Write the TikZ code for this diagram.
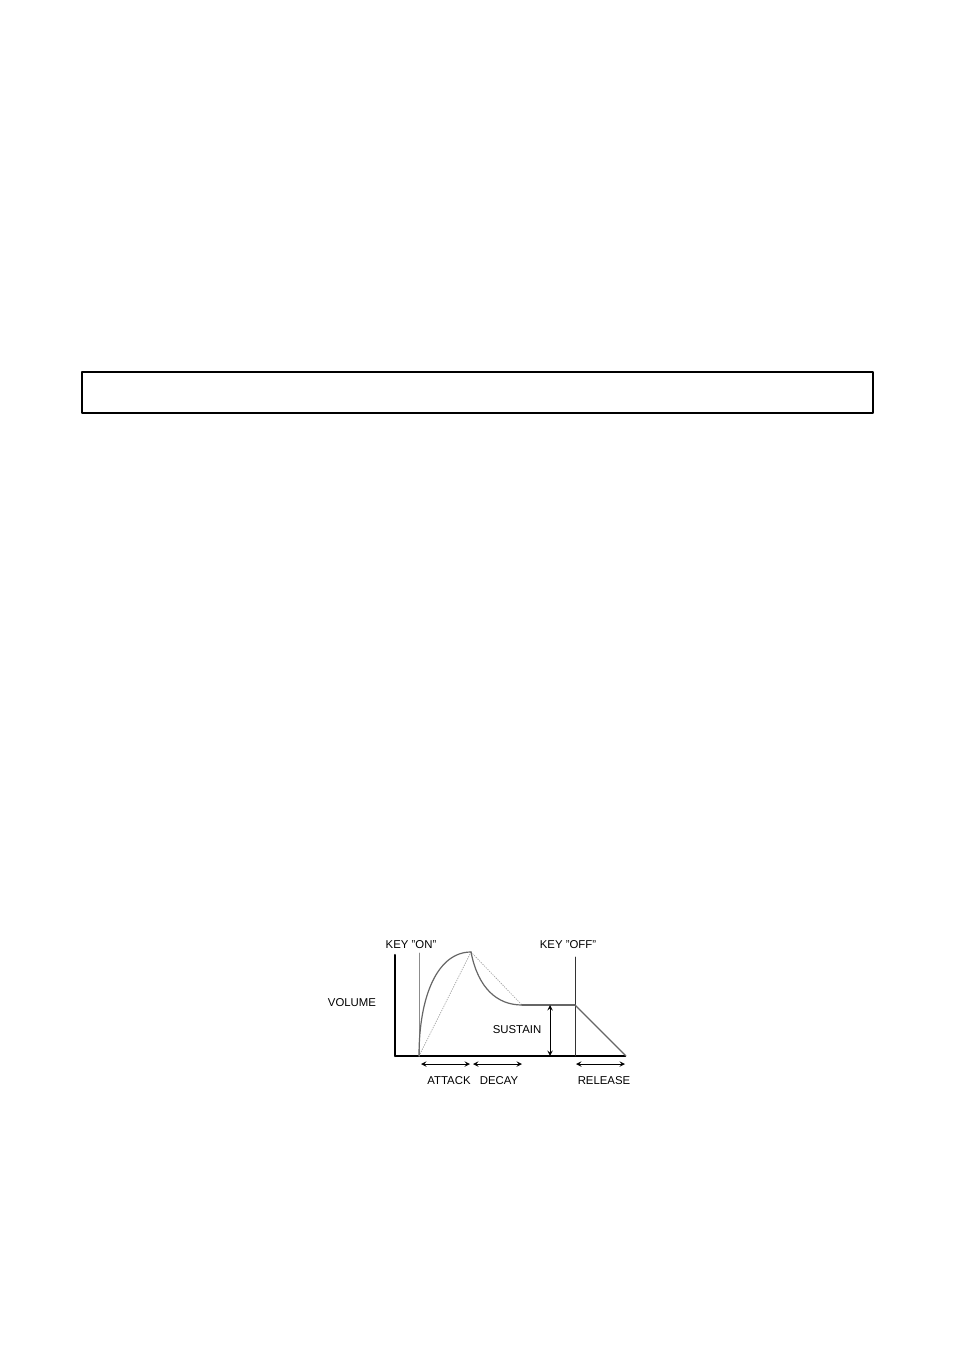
\documentclass[tikz,border=0pt]{standalone}
\usepackage{fontspec}
\setmainfont{Liberation Sans}
\usepackage{tikz}
\usetikzlibrary{arrows}
\tikzset{
  lbl/.style={font=\fontsize{7.1}{8}\selectfont,inner sep=0pt},
  env/.style={line width=0.75pt,color=black!60},
  guide/.style={line width=0.5pt,color=black!35,densely dotted},
  keyline/.style={line width=0.6pt,color=black!80},
  span/.style={<->,line width=0.5pt}
}
\begin{document}
\begin{tikzpicture}[line cap=round,line join=round,>=stealth,x=0.6237pt,y=-0.6237pt]
\useasboundingbox (0,0) rectangle (954,1350);
%\clip (0,0) rectangle (954,1350);
\draw [line width=0.65pt] (82,372) rectangle (873,413);
% points of the envelope
\coordinate (top) at (395,955);
\coordinate (org) at (395,1056);
\coordinate (end) at (626,1056);
\coordinate (on) at (419,1056);
\coordinate (ontop) at (419,953);
\coordinate (peak) at (471,952);
\coordinate (sus) at (522,1005);
\coordinate (off) at (575,1005);
\coordinate (offtop) at (575,957);
\coordinate (offbot) at (575,1056);
\coordinate (sa) at (550,1005);
\coordinate (sb) at (550,1056);
% axes
\draw [line width=1.3pt] (top)-- (org);
\draw [line width=1.8pt,line cap=butt] (org)-- (end);
\draw [keyline,color=black!45] (ontop)-- (on);
\draw [keyline] (offtop)-- (offbot);
% envelope
\draw [guide] (on)-- (peak);
\draw [guide] (peak)-- (sus);
\draw [env] (on) .. controls (419,995) and (438,952) .. (peak);
\draw [env] (peak) .. controls (478,988) and (497,1005) .. (sus);
\draw [env] (sus)-- (off);
\draw [env] (off)-- (end);
\draw [span] (sa)-- (sb);
% time spans
\coordinate (a1) at (421,1064);
\coordinate (a2) at (470,1064);
\coordinate (d1) at (473,1064);
\coordinate (d2) at (522,1064);
\coordinate (r1) at (576,1064);
\coordinate (r2) at (625,1064);
\draw [span] (a1)-- (a2);
\draw [span] (d1)-- (d2);
\draw [span] (r1)-- (r2);
% labels
\node [lbl] (keyon) at (411,945) {KEY "ON"};
\node [lbl] (keyoff) at (568,945) {KEY "OFF"};
\node [lbl] (volume) at (352,1003) {VOLUME};
\node [lbl] (sustain) at (517,1030) {SUSTAIN};
\node [lbl] (attack) at (449,1081) {ATTACK};
\node [lbl] (decay) at (499,1081) {DECAY};
\node [lbl] (release) at (604,1081) {RELEASE};
\end{tikzpicture}
\end{document}
